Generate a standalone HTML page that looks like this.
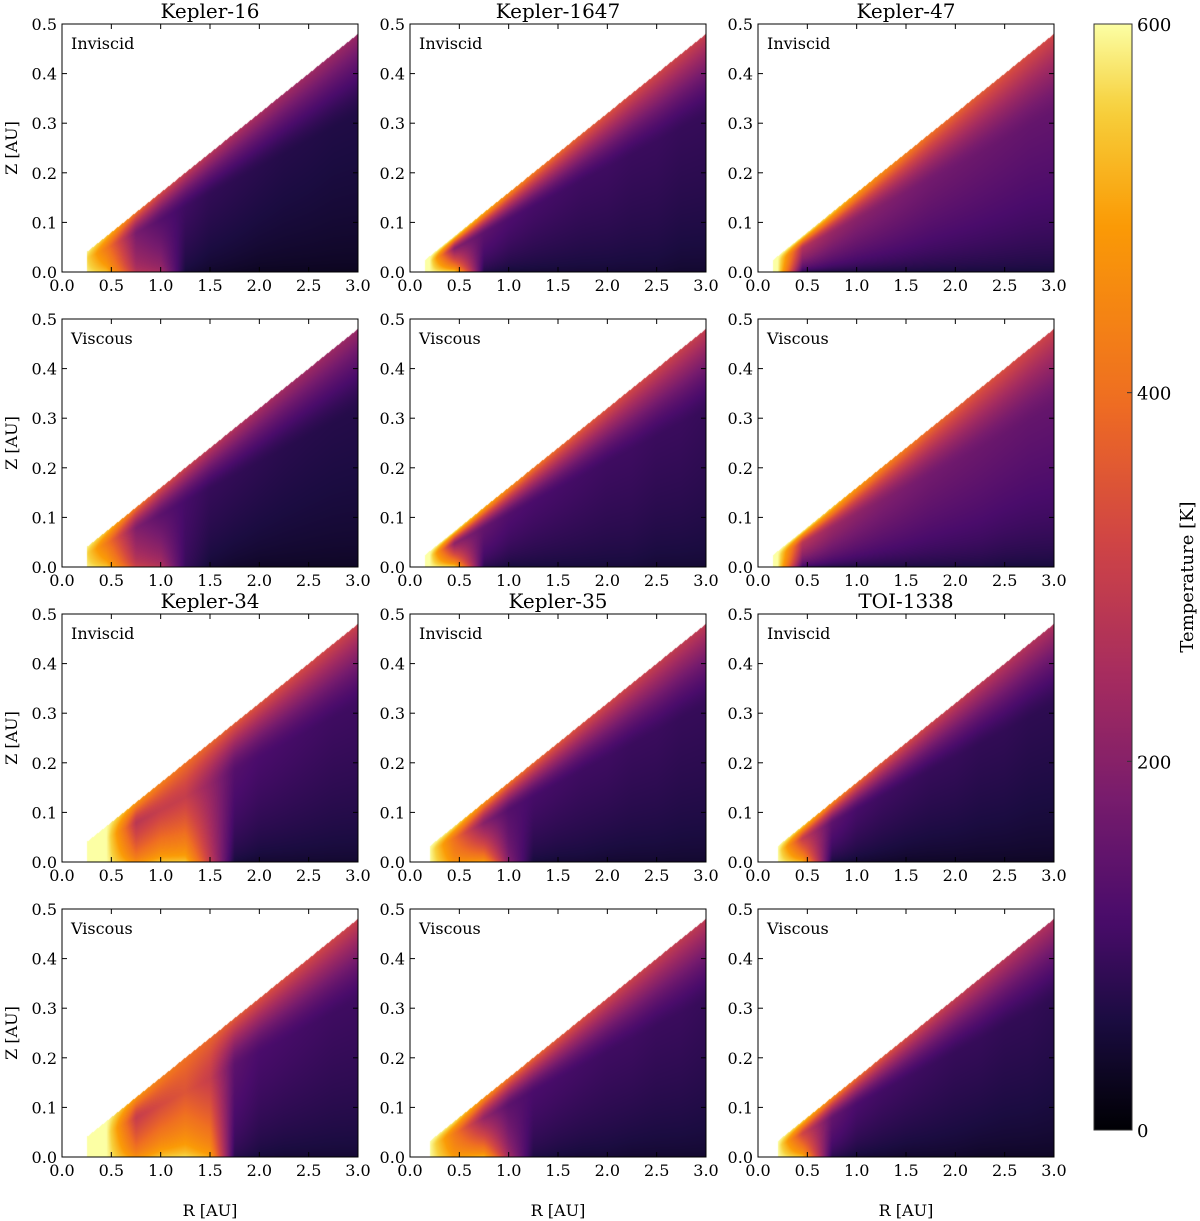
<!DOCTYPE html>
<html><head><meta charset="utf-8">
<style>
body{margin:0;background:#fff;width:1200px;height:1221px;position:relative;overflow:hidden;font-family:"DejaVu Serif","Liberation Serif",serif;}
canvas{position:absolute;}
svg{position:absolute;left:0;top:0;}
</style></head>
<body>
<div id="canvases"></div>
<svg id="ov" width="1200" height="1221"></svg>
<script>
const rGrid=[0.2,0.45,0.75,1.0,1.25,1.5,1.75,2.0,2.25,2.5,2.75,3.0];
const panelNames=["Kepler-16 inviscid","Kepler-1647 inviscid","Kepler-47 inviscid","Kepler-16 viscous","Kepler-1647 viscous","Kepler-47 viscous","Kepler-34 inviscid","Kepler-35 inviscid","TOI-1338 inviscid","Kepler-34 viscous","Kepler-35 viscous","TOI-1338 viscous"];
const panelLabels=["Inviscid","Inviscid","Inviscid","Viscous","Viscous","Viscous","Inviscid","Inviscid","Inviscid","Viscous","Viscous","Viscous"];
const rMin=[0.25,0.15,0.15,0.25,0.15,0.15,0.25,0.2,0.2,0.25,0.2,0.2];
const surfT=[
[600,540,400,330,295,275,260,250,240,235,230,225],
[600,600,520,460,420,390,365,345,330,320,310,300],
[600,600,560,500,460,430,400,380,360,345,330,320],
[600,540,410,340,305,280,265,250,240,235,230,225],
[600,600,520,460,415,385,360,340,325,315,305,295],
[600,600,550,490,450,420,390,370,350,335,320,310],
[600,600,480,430,400,380,360,345,335,325,315,305],
[600,580,470,410,380,355,335,320,310,300,290,285],
[600,560,450,390,355,330,310,295,285,275,265,260],
[600,600,480,430,400,380,360,345,335,325,315,305],
[600,580,470,410,380,355,335,320,310,300,290,285],
[600,560,450,390,355,330,310,295,285,275,265,260]];
const innerT=[
[600,420,180,130,100,85,80,75,70,68,65,65],
[600,200,140,120,110,105,100,100,95,95,90,90],
[600,260,220,200,190,180,170,165,160,155,150,150],
[600,420,190,140,110,90,85,80,75,72,70,70],
[600,210,150,125,115,110,105,100,100,95,95,90],
[600,270,225,205,190,180,170,165,160,155,150,150],
[600,600,280,300,300,220,130,115,110,105,100,100],
[600,400,200,130,110,105,100,100,95,95,90,90],
[600,300,140,110,100,95,90,90,85,85,80,80],
[600,600,300,330,350,300,140,115,110,105,100,100],
[600,420,220,140,115,110,105,100,100,95,95,90],
[600,320,150,115,105,100,95,90,90,85,85,80]];
const midT=[
[600,550,280,250,50,35,30,25,25,25,25,25],
[600,600,60,45,45,45,45,45,45,45,40,40],
[600,60,50,50,50,50,50,50,50,50,50,50],
[600,560,320,280,90,45,35,30,30,30,30,30],
[600,600,70,50,50,50,50,50,50,45,45,45],
[600,80,60,55,55,55,55,55,55,50,50,50],
[600,600,480,560,560,300,50,40,40,40,40,40],
[600,480,520,200,50,45,45,40,40,40,40,40],
[600,550,50,40,35,30,30,30,30,30,30,30],
[600,600,480,560,580,520,70,50,45,45,45,45],
[600,500,550,250,60,50,45,45,40,40,40,40],
[600,560,70,45,40,35,35,35,30,30,30,30]];
const titles=["Kepler-16","Kepler-1647","Kepler-47","Kepler-34","Kepler-35","TOI-1338"];
const xTicks=["0.0","0.5","1.0","1.5","2.0","2.5","3.0"];
const yTicks=["0.0","0.1","0.2","0.3","0.4","0.5"];
const cbTicks=[0,200,400,600];

const colX=[62,410,758], rowY=[24,319,614,909], W=296, H=248;
const xMax=3.0, yMax=0.5, slope=0.16, tMax=600;
const inferno=[[0,0,0,4],[0.13,27,12,65],[0.25,74,12,107],[0.38,120,28,109],[0.5,165,44,96],[0.63,207,68,70],[0.75,237,105,37],[0.88,251,155,6],[0.95,247,209,61],[1,252,255,164]];
const normV=[0,100,200,300,400,500,600], normT=[0,0.22,0.42,0.6,0.77,0.89,1];
function norm(v){v=Math.max(0,Math.min(600,v));for(let i=1;i<normV.length;i++){if(v<=normV[i]){const f=(v-normV[i-1])/(normV[i]-normV[i-1]);return normT[i-1]+(normT[i]-normT[i-1])*f;}}return 1;}
function cmap(t){t=Math.max(0,Math.min(1,t));for(let i=1;i<inferno.length;i++){if(t<=inferno[i][0]){const a=inferno[i-1],b=inferno[i],f=(t-a[0])/(b[0]-a[0]);return [a[1]+(b[1]-a[1])*f,a[2]+(b[2]-a[2])*f,a[3]+(b[3]-a[3])*f];}}return inferno[inferno.length-1].slice(1);}
function interpR(arr,R){if(R<=rGrid[0])return arr[0];for(let i=1;i<rGrid.length;i++){if(R<=rGrid[i]){const f=(R-rGrid[i-1])/(rGrid[i]-rGrid[i-1]);return arr[i-1]+(arr[i]-arr[i-1])*f;}}return arr[arr.length-1];}
const xs=R=>R/xMax*W, ys=z=>H-z/yMax*H;
const NS="http://www.w3.org/2000/svg", ov=document.getElementById('ov'), cv=document.getElementById('canvases');
function mk(tag,attrs,txt){const e=document.createElementNS(NS,tag);for(const k in attrs)e.setAttribute(k,attrs[k]);if(txt!==undefined)e.textContent=txt;ov.appendChild(e);return e;}

for(let p=0;p<12;p++){
  const row=Math.floor(p/3),col=p%3,x0=colX[col],y0=rowY[row];
  const c=document.createElement('canvas');c.width=W;c.height=H;c.style.left=x0+'px';c.style.top=y0+'px';
  
  
  cv.appendChild(c);
  const ctx=c.getContext('2d'),img=ctx.createImageData(W,H),d=img.data;
  for(let px=0;px<W;px++){
    const R=(px+0.5)/W*xMax;
    if(R<rMin[p])continue;
    const ts=interpR(surfT[p],R),ti=interpR(innerT[p],R),tm=interpR(midT[p],R),zt=slope*R;
    for(let py=0;py<H;py++){
      const z=(H-py-0.5)/H*yMax; if(z>zt)continue;
      const fr=z/zt;let T;
      if(fr<0.65)T=tm+(ti-tm)*Math.pow(fr/0.65,0.6);else T=ti+(ts-ti)*Math.pow((fr-0.65)/0.35,1.5);
      const c3=cmap(norm(T)),k=(py*W+px)*4;d[k]=c3[0];d[k+1]=c3[1];d[k+2]=c3[2];d[k+3]=255;
    }
  }
  ctx.putImageData(img,0,0);
  const fr=mk('rect',{x:x0,y:y0,width:W,height:H,fill:'none',stroke:'#000','stroke-width':1});
  
  
  xTicks.forEach(t=>{const X=x0+xs(parseFloat(t));
    mk('line',{x1:X,x2:X,y1:y0+H,y2:y0+H-5,stroke:'#000'});mk('line',{x1:X,x2:X,y1:y0,y2:y0+5,stroke:'#000'});
    const l=mk('text',{x:X,y:y0+H+19,'text-anchor':'middle','font-size':16},t);
    
    });
  yTicks.forEach(t=>{const Y=y0+ys(parseFloat(t));
    mk('line',{x1:x0,x2:x0+5,y1:Y,y2:Y,stroke:'#000'});mk('line',{x1:x0+W,x2:x0+W-5,y1:Y,y2:Y,stroke:'#000'});
    const l=mk('text',{x:x0-5,y:Y+6,'text-anchor':'end','font-size':16},t);
    
    });
  const lb=mk('text',{x:x0+9,y:y0+25,'font-size':16},panelLabels[p]);
  
  
  if(col===0){const yl=mk('text',{x:0,y:0,'font-size':16,'text-anchor':'middle',transform:`translate(17,${y0+H/2}) rotate(-90)`},'Z [AU]');
    
    }
  if(row===0||row===2){const tt=mk('text',{x:x0+W/2,y:y0-6,'font-size':20,'text-anchor':'middle'},titles[(row/2)*3+col]);
    
    }
  if(row===3){const xl=mk('text',{x:x0+W/2,y:1216,'font-size':16,'text-anchor':'middle'},'R [AU]');
    
    }
}
const cbX=1094,cbY=24,cbW=38,cbH=1106;
const defs=mk('defs',{});const g=document.createElementNS(NS,'linearGradient');g.setAttribute('id','cbg');g.setAttribute('x1',0);g.setAttribute('y1',1);g.setAttribute('x2',0);g.setAttribute('y2',0);
for(let i=0;i<=60;i++){const v=i*10,c3=cmap(norm(v));const st=document.createElementNS(NS,'stop');st.setAttribute('offset',v/600);st.setAttribute('stop-color',`rgb(${c3[0]|0},${c3[1]|0},${c3[2]|0})`);g.appendChild(st);}
defs.appendChild(g);
const cb=mk('rect',{x:cbX,y:cbY,width:cbW,height:cbH,fill:'url(#cbg)',stroke:'#333'});


cbTicks.forEach(v=>{const Y=cbY+cbH-v/tMax*cbH;mk('line',{x1:cbX+cbW-5,x2:cbX+cbW,y1:Y,y2:Y,stroke:'#333'});
  const l=mk('text',{x:cbX+cbW+5,y:Y+7,'font-size':18},String(v));
  
  });
const ct=mk('text',{x:0,y:0,'font-size':18,'text-anchor':'middle',transform:`translate(1193,${cbY+cbH/2}) rotate(-90)`},'Temperature [K]');


</script>
</body></html>
